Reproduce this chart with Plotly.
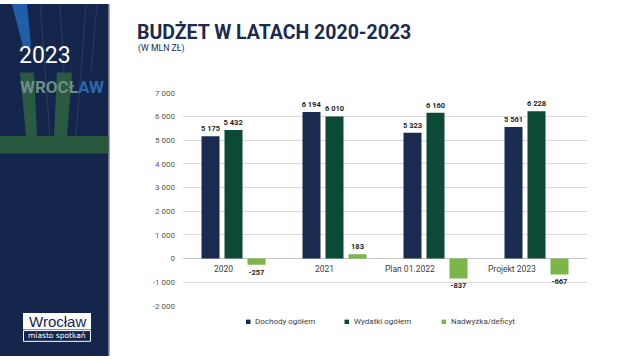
import plotly.graph_objects as go

# ---- data ----
categories = ["2020", "2021", "Plan 01.2022", "Projekt 2023"]
dochody = [5175, 6194, 5323, 5561]
wydatki = [5432, 6010, 6160, 6228]
saldo = [-257, 183, -837, -667]
series_names = ["Dochody ogółem", "Wydatki ogółem", "Nadwyżka/deficyt"]
y_ticks = [-2000, -1000, 0, 1000, 2000, 3000, 4000, 5000, 6000, 7000]
y_tick_text = ["-2 000", "-1 000", "0", "1 000", "2 000", "3 000", "4 000", "5 000", "6 000", "7 000"]
title_text = "BUDŻET W LATACH 2020-2023"
subtitle_text = "(W MLN ZŁ)"

W, H = 640, 360
NAVY = "#1a2a50"
DGREEN = "#0b4a36"
LGREEN = "#7ab648"
SIDEBAR = "#15264c"
FONT = "Roboto, Liberation Sans, sans-serif"


def fmt(v):
    return f"{v:,}".replace(",", " ")


def px(x):
    return x / W


def py(y):
    return 1 - y / H


fig = go.Figure()
colors = [NAVY, DGREEN, LGREEN]
for name, vals, col in zip(series_names, [dochody, wydatki, saldo], colors):
    fig.add_trace(go.Bar(
        x=categories, y=vals, name=name, marker=dict(color=col, line=dict(width=0)),
        text=[fmt(v) for v in vals], textposition="outside", constraintext="none",
        textfont=dict(family=FONT, size=7.5, color="#262626", weight="bold"),
        cliponaxis=False, showlegend=False,
    ))

# axis geometry
ppu = (308.8 - 91.0) / 9000.0
ymin, ymax = -2020, 7020
top_px = 91.0 - 20 * ppu
bot_px = 308.8 + 20 * ppu

fig.update_layout(
    width=W, height=H, margin=dict(l=0, r=0, t=0, b=0),
    paper_bgcolor="white", plot_bgcolor="white",
    barmode="group", bargap=0.317, bargroupgap=0.217,
    xaxis=dict(type="category", domain=[px(183), px(587)], range=[-0.5, len(categories) - 0.5],
               showticklabels=False, showgrid=False,
               zeroline=False, showline=False, fixedrange=True),
    yaxis=dict(domain=[py(bot_px), py(top_px)], range=[ymin, ymax],
               tickvals=y_ticks, ticktext=y_tick_text,
               tickfont=dict(family=FONT, size=8, color="#595959"),
               showgrid=True, gridcolor="#d9d9d9", gridwidth=1,
               zeroline=True, zerolinecolor="#c4c4c4", zerolinewidth=1,
               showline=False, ticks="", ticklabelstandoff=7),
    font=dict(family=FONT),
)

shapes = []
annotations = []

# category labels (right-aligned at group centre)
for i, c in enumerate(categories):
    annotations.append(dict(x=i, y=0, xref="x", yref="y", text=c, showarrow=False,
                            xanchor="right", yanchor="top", yshift=-3, xshift=1,
                            font=dict(family=FONT, size=8.5, color="#404040")))

# ---- sidebar ----
def path(points):
    return "M " + " L ".join(f"{px(x)},{py(y)}" for x, y in points) + " Z"

shapes.append(dict(type="rect", xref="paper", yref="paper", x0=0, x1=px(108.5), y0=0, y1=1,
                   fillcolor=SIDEBAR, line=dict(width=0), layer="below"))
shapes.append(dict(type="line", xref="paper", yref="paper", x0=px(109), x1=px(109), y0=0, y1=1,
                   line=dict(color="#4a5676", width=1)))
# blue stripe
shapes.append(dict(type="path", xref="paper", yref="paper", path=path([(12, 0), (27, 0), (31, 44), (23, 44)]),
                   fillcolor="#1f5ea8", line=dict(width=0)))
# faint lines
for (x0, y0, x1, y1) in [(40, 0, 50, 135), (86, 0, 76, 135), (97, 0, 91, 70), (60, 0, 64, 70)]:
    shapes.append(dict(type="line", xref="paper", yref="paper", x0=px(x0), y0=py(y0), x1=px(x1), y1=py(y1),
                       line=dict(color="#34456c", width=0.7)))
# green W strokes
shapes.append(dict(type="path", xref="paper", yref="paper", path=path([(20, 70), (34, 70), (37, 135), (26, 135)]),
                   fillcolor="#2a5a40", line=dict(width=0)))
shapes.append(dict(type="path", xref="paper", yref="paper", path=path([(57, 70), (72, 70), (67, 135), (54, 135)]),
                   fillcolor="#2a5a40", line=dict(width=0)))
# green band
shapes.append(dict(type="rect", xref="paper", yref="paper", x0=0, x1=px(108.5), y0=py(153), y1=py(135),
                   fillcolor="#27573d", line=dict(width=0)))

annotations.append(dict(x=px(17), y=py(52.5), xref="paper", yref="paper", xanchor="left", yanchor="middle",
                        text="2023", showarrow=False,
                        font=dict(family=FONT, size=23, color="white")))
annotations.append(dict(x=px(18), y=py(85), xref="paper", yref="paper", xanchor="left", yanchor="middle",
                        text='<span style="color:#6b8f85">WROCŁ</span><span style="color:#2f66ad">AW</span>',
                        showarrow=False, font=dict(family=FONT, size=17, color="#6b8f85", weight="bold")))

# logo
shapes.append(dict(type="rect", xref="paper", yref="paper", x0=px(23), x1=px(91), y0=py(333), y1=py(316),
                   fillcolor="white", line=dict(width=0)))
shapes.append(dict(type="rect", xref="paper", yref="paper", x0=px(23.5), x1=px(90.5), y0=py(345), y1=py(334),
                   fillcolor="rgba(0,0,0,0)", line=dict(color="white", width=1)))
annotations.append(dict(x=px(57), y=py(324.5), xref="paper", yref="paper", xanchor="center", yanchor="middle",
                        text="Wrocław", showarrow=False,
                        font=dict(family="Liberation Sans, Arial, sans-serif", size=15, color=SIDEBAR)))
annotations.append(dict(x=px(57), y=py(339.5), xref="paper", yref="paper", xanchor="center", yanchor="middle",
                        text="miasto spotkań", showarrow=False,
                        font=dict(family="DejaVu Sans, sans-serif", size=7.5, color="white")))

# ---- title ----
annotations.append(dict(x=px(135), y=py(29), xref="paper", yref="paper", xanchor="left", yanchor="middle",
                        text=f"<b>{title_text}</b>", showarrow=False,
                        font=dict(family=FONT, size=19.5, color="#1b2a4f")))
annotations.append(dict(x=px(136), y=py(45.5), xref="paper", yref="paper", xanchor="left", yanchor="middle",
                        text=subtitle_text, showarrow=False,
                        font=dict(family=FONT, size=8.7, color="#1b2a4f")))

# ---- legend ----
legend_x = [246, 344.5, 441.5]
for name, col, lx in zip(series_names, colors, legend_x):
    shapes.append(dict(type="rect", xref="paper", yref="paper", x0=px(lx), x1=px(lx + 4.5),
                       y0=py(327.3), y1=py(322.8), fillcolor=col, line=dict(width=0)))
    annotations.append(dict(x=px(lx + 7), y=py(325), xref="paper", yref="paper", xanchor="left",
                            yanchor="middle", text=name, showarrow=False,
                            font=dict(family=FONT, size=8, color="#404040")))

fig.update_layout(shapes=shapes, annotations=annotations)
fig.write_html("out.html", config={"displayModeBar": False},
               post_script="document.body.style.margin='0';document.body.style.padding='0';")
